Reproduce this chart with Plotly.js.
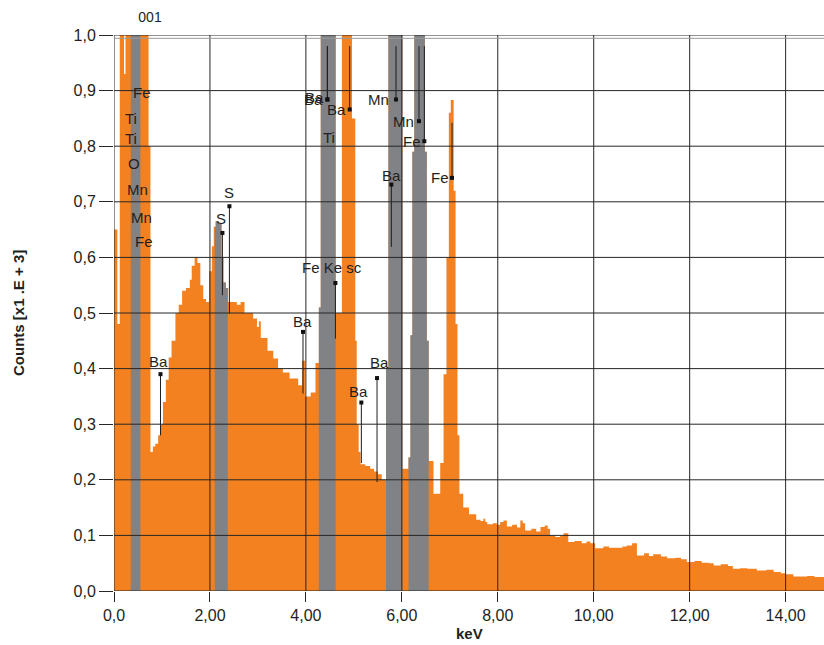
<!DOCTYPE html>
<html>
<head>
<meta charset="utf-8">
<script src="https://cdn.plot.ly/plotly-3.0.1.min.js"></script>
<style>html,body{margin:0;padding:0;background:#fff;}#chart{width:824px;height:645px;}</style>
</head>
<body>
<div id="chart"></div>
<script>
// Spectrum steps: energy (keV) where each step starts, counts (x1E3) of that step
const specE = [0.00,0.07,0.12,0.21,0.24,0.35,0.55,0.72,0.76,0.81,0.86,0.92,0.97,1.02,1.08,1.14,1.20,1.28,1.35,1.42,1.50,1.58,1.62,1.68,1.74,1.80,1.86,1.92,1.98,2.04,2.08,2.12,2.18,2.24,2.28,2.33,2.38,2.48,2.56,2.64,2.72,2.90,2.98,3.02,3.06,3.20,3.32,3.42,3.52,3.66,3.84,3.92,3.98,4.10,4.20,4.27,4.31,4.62,4.75,4.96,5.03,5.06,5.10,5.14,5.24,5.34,5.42,5.50,5.58,5.67,5.72,6.01,6.14,6.18,6.22,6.26,6.48,6.52,6.56,6.66,6.80,6.87,6.93,6.98,7.02,7.08,7.12,7.16,7.20,7.28,7.40,7.55,
  7.64,7.70,7.74,7.78,7.90,7.98,8.05,8.12,8.19,8.30,8.40,8.47,8.52,8.57,8.70,8.80,8.89,8.98,9.04,9.09,9.20,9.30,9.37,9.47,9.60,9.75,9.85,9.93,10.03,10.20,10.32,10.45,10.60,10.69,10.80,10.90,11.05,11.15,11.24,11.40,11.53,11.70,11.82,11.94,12.10,12.25,12.40,12.50,12.65,12.80,12.90,13.05,13.20,13.40,13.60,13.75,13.90,14.00,14.16,14.45,14.60];
const specC = [0.65,0.48,1.2,0.93,1.2,1.2,1.2,0.80,0.25,0.26,0.265,0.28,0.30,0.34,0.38,0.42,0.45,0.50,0.515,0.54,0.545,0.56,0.585,0.60,0.59,0.55,0.525,0.52,0.575,0.62,0.655,0.665,0.66,0.60,0.555,0.545,0.52,0.52,0.515,0.52,0.50,0.49,0.475,0.485,0.455,0.432,0.418,0.40,0.393,0.382,0.37,0.414,0.35,0.357,0.41,0.51,1.2,0.50,1.2,0.85,0.45,0.30,0.25,0.228,0.225,0.22,0.215,0.21,0.20,0.40,1.2,0.22,0.24,0.46,0.79,1.2,0.79,0.45,0.234,0.175,0.23,0.39,0.60,0.86,0.883,0.72,0.48,0.28,0.175,0.15,0.138,0.128,
  0.126,0.130,0.124,0.120,0.122,0.119,0.124,0.127,0.116,0.119,0.114,0.127,0.122,0.109,0.112,0.107,0.115,0.118,0.112,0.100,0.097,0.099,0.104,0.088,0.090,0.086,0.089,0.086,0.077,0.080,0.078,0.078,0.080,0.082,0.086,0.064,0.068,0.063,0.066,0.062,0.059,0.060,0.057,0.052,0.054,0.051,0.050,0.046,0.048,0.045,0.040,0.041,0.040,0.037,0.038,0.034,0.032,0.030,0.026,0.027,0.025];

// Energy windows drawn in grey
const greyStart = [0.35, 2.10, 4.27, 5.67, 6.14];
const greyEnd   = [0.55, 2.37, 4.62, 6.01, 6.56];

// Peak markers
const markText   = ['Ba','S','S','Ba','Fe Ke sc','Ba','Ba','Ba','Ba','Ba','Mn','Mn','Fe','Ba','Fe'];
const markEnergy = [0.969,2.406,2.260,3.940,4.615,5.156,5.483,4.448,4.448,4.913,5.879,6.358,6.469,5.781,7.046];
const markCounts = [0.390,0.692,0.644,0.466,0.554,0.339,0.383,0.884,0.884,0.866,0.884,0.845,0.809,0.731,0.743];
const markLineTo = [0.280,0.499,0.532,0.355,0.454,0.230,0.196,0.980,0.980,0.980,0.980,0.980,0.980,0.619,0.842];

// Labels without marker
const freeText   = ['Fe','Ti','Ti','O','Mn','Mn','Fe','Ti'];
const freeEnergy = [0.575,0.345,0.345,0.408,0.498,0.563,0.632,4.474];
const freeCounts = [0.897,0.850,0.814,0.769,0.722,0.671,0.629,0.815];

const xTickVals = [0,2,4,6,8,10,12,14];
const xTickText = ['0,0','2,00','4,00','6,00','8,00','10,00','12,00','14,00'];
const yTickVals = [0,0.1,0.2,0.3,0.4,0.5,0.6,0.7,0.8,0.9,1.0];
const yTickText = ['0,0','0,1','0,2','0,3','0,4','0,5','0,6','0,7','0,8','0,9','1,0'];

// --- styling / layout (not data) ---
const ORANGE = '#F48120';
const GREY = '#818285';
const GRID = '#262626';
const FONT = 'Liberation Sans, Arial, Helvetica, sans-serif';
const XMAX = 14.8;
const LABEL_SIZE = 15;
// label text offsets in pixels (centre of text relative to marker)
const labelDX = [-2,0,-1,-1,-3,-3,2,-14,-13,-13,-18,-16,-12,0,-12];
const labelDY = [13,14,14,10,15,11,16,0,2,0,0,0,0,9,0];

function stepValue(x){
  let v = specC[0];
  for (let i=0;i<specE.length;i++){ if (specE[i] <= x + 1e-9) v = specC[i]; else break; }
  return v;
}

const endE = specE.concat([XMAX]);
const endC = specC.concat([specC[specC.length-1]]);

const traces = [{
  type:'scatter', x:endE, y:endC, mode:'lines',
  line:{shape:'hv', width:0, color:ORANGE}, fill:'tozeroy', fillcolor:ORANGE,
  hoverinfo:'skip', showlegend:false
}];

for (let b=0;b<greyStart.length;b++){
  const xs=[greyStart[b]], ys=[stepValue(greyStart[b])];
  for (let i=0;i<specE.length;i++){
    if (specE[i] > greyStart[b] && specE[i] < greyEnd[b]) { xs.push(specE[i]); ys.push(specC[i]); }
  }
  xs.push(greyEnd[b]); ys.push(ys[ys.length-1]);
  traces.push({type:'scatter', x:xs, y:ys, mode:'lines',
    line:{shape:'hv', width:0, color:GREY}, fill:'tozeroy', fillcolor:GREY,
    hoverinfo:'skip', showlegend:false});
}

const lx=[], ly=[];
for (let i=0;i<markEnergy.length;i++){ lx.push(markEnergy[i],markEnergy[i],null); ly.push(markCounts[i],markLineTo[i],null); }
traces.push({type:'scatter', x:lx, y:ly, mode:'lines', line:{color:'#1e1e1e', width:1}, hoverinfo:'skip', showlegend:false});
traces.push({type:'scatter', x:markEnergy, y:markCounts, mode:'markers',
  marker:{symbol:'square', size:4, color:'#111'}, hoverinfo:'skip', showlegend:false});

const shapes = [];
xTickVals.forEach(v => shapes.push({type:'line', xref:'x', yref:'paper', x0:v, x1:v, y0:0, y1:1, line:{color:GRID, width:1}, layer:'above'}));
yTickVals.forEach(v => shapes.push({type:'line', xref:'paper', yref:'y', x0:0, x1:1, y0:v, y1:v, line:{color:GRID, width:1}, layer:'above'}));
shapes.push({type:'line', xref:'paper', yref:'y', x0:0, x1:1, y0:0.994, y1:0.994, line:{color:'#9a9a9a', width:1}, layer:'above'});

const annotations = [];
for (let i=0;i<markText.length;i++){
  annotations.push({x:markEnergy[i], y:markCounts[i], xref:'x', yref:'y', text:markText[i], showarrow:false,
    xshift:labelDX[i], yshift:labelDY[i], xanchor:'center', yanchor:'middle', font:{family:FONT, size:LABEL_SIZE, color:'#231f20'}});
}
for (let i=0;i<freeText.length;i++){
  annotations.push({x:freeEnergy[i], y:freeCounts[i], xref:'x', yref:'y', text:freeText[i], showarrow:false,
    xanchor:'center', yanchor:'middle', font:{family:FONT, size:LABEL_SIZE, color:'#231f20'}});
}
annotations.push({xref:'paper', yref:'paper', x:-0.1352, y:0.5, text:'<b>Counts [x1 .E + 3]</b>', textangle:-90,
  showarrow:false, xanchor:'center', yanchor:'middle', font:{family:FONT, size:15, color:'#231f20'}});
annotations.push({xref:'paper', yref:'paper', x:0.5, y:-0.077, text:'<b>keV</b>',
  showarrow:false, xanchor:'center', yanchor:'middle', font:{family:FONT, size:15, color:'#231f20'}});

const layout = {
  width:824, height:645,
  margin:{l:114, r:0, t:35, b:54},
  paper_bgcolor:'#fff', plot_bgcolor:'#fff',
  title:{text:'001', x:150/824, xanchor:'center', y:1-17/645, yanchor:'middle', font:{family:FONT, size:14, color:'#231f20'}},
  xaxis:{range:[0,XMAX], tickvals:xTickVals, ticktext:xTickText, showgrid:false, zeroline:false, showline:false,
    ticks:'outside', ticklen:10, tickcolor:GRID, tickwidth:1, tickfont:{family:FONT, size:16, color:'#231f20'}, fixedrange:true},
  yaxis:{range:[0,1.0], tickvals:yTickVals, ticktext:yTickText, showgrid:false, zeroline:false, showline:false,
    ticks:'outside', ticklen:14, tickcolor:GRID, tickwidth:1, tickfont:{family:FONT, size:16, color:'#231f20'}, fixedrange:true},
  shapes:shapes, annotations:annotations, showlegend:false
};

Plotly.newPlot('chart', traces, layout, {displayModeBar:false, staticPlot:true});
</script>
</body>
</html>
